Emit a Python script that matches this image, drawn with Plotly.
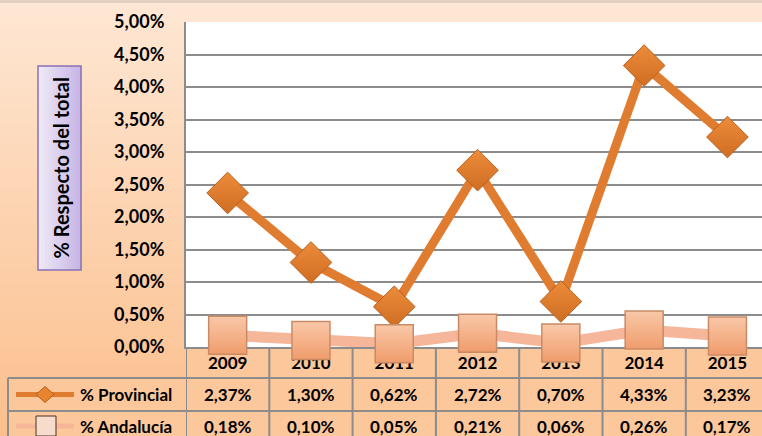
import plotly.graph_objects as go

years = ["2009", "2010", "2011", "2012", "2013", "2014", "2015"]
provincial = [2.37, 1.30, 0.62, 2.72, 0.70, 4.33, 3.23]
andalucia = [0.18, 0.10, 0.05, 0.21, 0.06, 0.26, 0.17]
series_names = ["% Provincial", "% Andalucía"]
y_tickvals = [0, 0.5, 1, 1.5, 2, 2.5, 3, 3.5, 4, 4.5, 5]
y_ticktext = ["0,00%", "0,50%", "1,00%", "1,50%", "2,00%", "2,50%",
              "3,00%", "3,50%", "4,00%", "4,50%", "5,00%"]
y_title = "% Respecto del total"

W, H = 762, 436
ML, MT, MB = 186, 22, 89
PH = H - MT - MB
PW = W - ML
FONT = "Lato"

PROV_LINE = "#e07c30"
PROV_MARK = "#e8842f"
AND_LINE = "#f6b69a"
AND_MARK = "#f9c8a8"
GRID = "#8c8c8c"
CELL = "#fcc79b"


def fmt(v):
    return f"{v:.2f}%".replace(".", ",")


def py(px):  # pixel y (from top) -> paper y
    return (H - MB - px) / PH


def px_(pxv):  # pixel x -> paper x
    return (pxv - ML) / PW


def mix(c1, c2, t):
    a = [int(c1[i:i + 2], 16) for i in (1, 3, 5)]
    b = [int(c2[i:i + 2], 16) for i in (1, 3, 5)]
    return "#" + "".join(f"{round(a[k] + (b[k] - a[k]) * t):02x}" for k in range(3))


fig = go.Figure()

fig.add_trace(go.Scatter(
    x=years, y=provincial, name=series_names[0], mode="lines+markers",
    line=dict(color=PROV_LINE, width=9),
    marker=dict(symbol="diamond", size=32, color="#ec8c3a",
                line=dict(color="#b8601f", width=1),
                gradient=dict(type="vertical", color="#cf6d22")),
    cliponaxis=False, showlegend=False))
fig.add_trace(go.Scatter(
    x=years, y=andalucia, name=series_names[1], mode="lines+markers",
    line=dict(color=AND_LINE, width=11),
    marker=dict(symbol="square", size=38, color=AND_MARK,
                line=dict(color="#c98a66", width=1.5),
                gradient=dict(type="vertical", color="#f09c6c")),
    cliponaxis=False, showlegend=False))

shapes = []
# background gradient
N = 60
for i in range(N):
    y0 = i * H / N
    y1 = (i + 1) * H / N + 0.8
    shapes.append(dict(type="rect", xref="paper", yref="paper",
                       x0=px_(0), x1=px_(W), y0=py(y1), y1=py(y0),
                       fillcolor=mix("#fee7d4", "#fbbf8c", i / (N - 1)),
                       line=dict(width=0), layer="below"))
# faint shadow at top edge
shapes.append(dict(type="rect", xref="paper", yref="paper",
                   x0=px_(0), x1=px_(W), y0=py(3), y1=py(0),
                   fillcolor="rgba(180,160,150,0.35)", line=dict(width=0), layer="below"))
# plot area white
shapes.append(dict(type="rect", xref="paper", yref="paper", x0=0, x1=1, y0=0, y1=1,
                   fillcolor="white", line=dict(width=0), layer="below"))

# table
row_tops = [347, 378, 411, 445]
ncol = len(years)
xmax = ncol - 0.5 + 1
shapes.append(dict(type="rect", xref="x", yref="paper", x0=-0.5, x1=xmax,
                   y0=py(row_tops[3]), y1=0, fillcolor=CELL, line=dict(width=0), layer="below"))
shapes.append(dict(type="rect", xref="paper", yref="paper", x0=px_(8), x1=0,
                   y0=py(row_tops[3]), y1=py(row_tops[1]), fillcolor=CELL,
                   line=dict(width=0), layer="below"))
for k in range(ncol + 1):
    shapes.append(dict(type="line", xref="x", yref="paper", x0=k - 0.5, x1=k - 0.5,
                       y0=py(row_tops[3]), y1=0, line=dict(color=GRID, width=2), layer="below"))
for r in (1, 2):
    shapes.append(dict(type="line", xref="paper", yref="paper", x0=px_(8), x1=px_(W + 5),
                       y0=py(row_tops[r]), y1=py(row_tops[r]),
                       line=dict(color=GRID, width=2), layer="below"))
shapes.append(dict(type="line", xref="paper", yref="paper", x0=px_(8), x1=px_(8),
                   y0=py(row_tops[3]), y1=py(row_tops[1]),
                   line=dict(color=GRID, width=2), layer="below"))

# legend keys in table
rows_c = [(row_tops[1] + row_tops[2]) / 2, 426]
shapes.append(dict(type="line", xref="paper", yref="paper", x0=px_(16), x1=px_(74),
                   y0=py(rows_c[0]), y1=py(rows_c[0]),
                   line=dict(color=PROV_LINE, width=5)))
shapes.append(dict(type="path", xref="paper", yref="paper",
                   path=(f"M {px_(45)},{py(rows_c[0]-8)} L {px_(54)},{py(rows_c[0])} "
                         f"L {px_(45)},{py(rows_c[0]+8)} L {px_(36)},{py(rows_c[0])} Z"),
                   fillcolor=PROV_MARK, line=dict(color="#b8601f", width=1)))
shapes.append(dict(type="line", xref="paper", yref="paper", x0=px_(16), x1=px_(74),
                   y0=py(rows_c[1]), y1=py(rows_c[1]),
                   line=dict(color=AND_LINE, width=5)))
shapes.append(dict(type="rect", xref="paper", yref="paper",
                   x0=px_(36), x1=px_(56), y0=py(rows_c[1] + 10), y1=py(rows_c[1] - 10),
                   fillcolor="#f6dccb", line=dict(color="#4a3028", width=1)))

# y-axis title box
bx0, bx1, by0, by1 = 38, 81, 66, 270
NS = 12
for i in range(NS):
    xa = bx0 + (bx1 - bx0) * i / NS
    xb = bx0 + (bx1 - bx0) * (i + 1) / NS + 0.5
    shapes.append(dict(type="rect", xref="paper", yref="paper",
                       x0=px_(xa), x1=px_(xb), y0=py(by1), y1=py(by0),
                       fillcolor=mix("#eee9f6", "#c7b6e6", i / (NS - 1)), line=dict(width=0)))
shapes.append(dict(type="rect", xref="paper", yref="paper",
                   x0=px_(bx0), x1=px_(bx1), y0=py(by1), y1=py(by0),
                   fillcolor="rgba(0,0,0,0)", line=dict(color="#8a72b4", width=1.5)))

annotations = [dict(text=f"<b>{y_title}</b>", xref="paper", yref="paper",
                    x=px_((bx0 + bx1) / 2 + 1), y=py((by0 + by1) / 2), textangle=-90,
                    xanchor="center", yanchor="middle",
                    showarrow=False, font=dict(family=FONT, size=20, color="black"))]
for r, (name, vals) in enumerate(zip(series_names, [provincial, andalucia])):
    annotations.append(dict(text=f"<b>{name}</b>", xref="paper", yref="paper",
                            x=px_(78), y=py(rows_c[r]), xanchor="left", yanchor="middle",
                            showarrow=False,
                            font=dict(family=FONT, size=17, color="black")))
    for i, v in enumerate(vals):
        annotations.append(dict(text=f"<b>{fmt(v)}</b>", xref="x", yref="paper",
                                x=i, y=py(rows_c[r]), xanchor="center", yanchor="middle",
                                showarrow=False,
                                font=dict(family=FONT, size=17, color="black")))

fig.update_layout(
    width=W, height=H,
    margin=dict(l=ML, r=0, t=MT, b=MB, pad=0),
    paper_bgcolor="#fdd9bb", plot_bgcolor="white",
    shapes=shapes, annotations=annotations, showlegend=False,
    xaxis=dict(type="category", categoryorder="array", categoryarray=years,
               range=[-0.5, -0.5 + PW / 83.3], showgrid=False, zeroline=False,
               showline=True, linecolor=GRID, linewidth=2, ticks="",
               tickfont=dict(family=FONT, size=17, color="black"),
               tickprefix="<b>", ticksuffix="</b>", ticklabelstandoff=0,
               layer="below traces"),
    yaxis=dict(range=[0, 5], tickvals=y_tickvals, ticktext=[f"<b>{t}</b>" for t in y_ticktext],
               showgrid=True, gridcolor=GRID, gridwidth=2, zeroline=False,
               showline=True, linecolor=GRID, linewidth=2, ticks="",
               ticklabelstandoff=16,
               tickfont=dict(family=FONT, size=18, color="black")),
)

fig.write_html("out.html", config={"displayModeBar": False},
               post_script="document.body.style.margin='0px';document.body.style.overflow='hidden';")
